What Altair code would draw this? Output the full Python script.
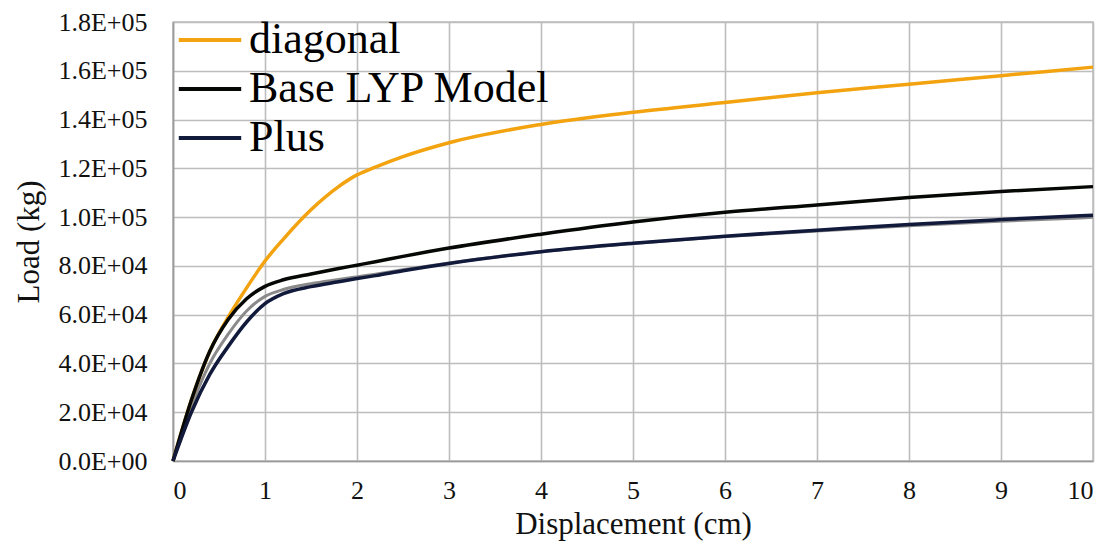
import altair as alt
import pandas as pd

# Displacement sample points (cm)
disp = [0, 0.2, 0.4, 0.6, 0.8, 1.0, 1.2, 1.5, 1.8, 2.0, 2.2, 2.5, 3, 4, 5, 6, 7, 8, 9, 10]

# Load values (kg)
diagonal = [0, 25000, 45000, 59000, 71000, 82000, 91000, 103000, 112500, 117300,
            120500, 124800, 130500, 138000, 143000, 147000, 151000, 154500, 158000, 161500]
base_lyp = [0, 25000, 45000, 58000, 66500, 71600, 74300, 76700, 78900, 80300,
            81700, 83900, 87300, 93000, 98000, 102000, 105000, 108000, 110500, 112500]
plus = [0, 20000, 35500, 47000, 57000, 64500, 68600, 71500, 73500, 74800,
        76000, 78000, 81000, 85800, 89300, 92200, 94600, 97000, 99000, 100800]
grey_curve = [0, 22500, 40000, 52000, 61500, 67500, 70300, 72700, 74400, 75500,
              76600, 78400, 81200, 85800, 89200, 92000, 94300, 96500, 98300, 99900]

series_names = ["diagonal", "Base LYP Model", "Plus"]
series_colors = ["#F2A30F", "#050805", "#121a3c"]

y_ticks = [0, 20000, 40000, 60000, 80000, 100000, 120000, 140000, 160000, 180000]
x_ticks = [0, 1, 2, 3, 4, 5, 6, 7, 8, 9, 10]

rows = []
for name, vals in zip(series_names, [diagonal, base_lyp, plus]):
    for i, (xv, yv) in enumerate(zip(disp, vals)):
        rows.append({"series": name, "x": xv, "y": yv, "ord": i})
df = pd.DataFrame(rows)
gdf = pd.DataFrame({"x": disp, "y": grey_curve})

FONT = "Liberation Serif"
EXP = "floor(log(datum.value)/LN10 + 1e-9)"
label_expr = (
    "datum.value == 0 ? '0.0E+00' : format(datum.value / pow(10, " + EXP + "), '.1f') + 'E+' + ("
    + EXP + " < 10 ? '0' : '') + " + EXP
)

axis_style = dict(
    labelFont=FONT,
    titleFont=FONT,
    labelFontSize=26,
    titleFontSize=31,
    titleFontWeight="normal",
    labelColor="#111111",
    titleColor="#111111",
    grid=True,
    gridColor="#BDBDBD",
    gridWidth=1.6,
    domainColor="#9A9A9A",
    domainWidth=1.6,
    ticks=False,
)

x_enc = alt.X(
    "x:Q",
    scale=alt.Scale(domain=[0, 10], nice=False, zero=True),
    axis=alt.Axis(values=x_ticks, title="Displacement (cm)", format="d",
                  labelPadding=16, titlePadding=6, **axis_style),
)
y_enc = alt.Y(
    "y:Q",
    scale=alt.Scale(domain=[0, 180000], nice=False),
    axis=alt.Axis(values=y_ticks, title="Load (kg)", labelExpr=label_expr,
                  labelPadding=26, titlePadding=12, **axis_style),
)

grey_layer = alt.Chart(gdf).mark_line(
    color="#8a8a8a", strokeWidth=3, interpolate="monotone"
).encode(x=x_enc, y=y_enc)

main = alt.Chart(df).mark_line(strokeWidth=3.5, interpolate="monotone").encode(
    x=x_enc,
    y=y_enc,
    order="ord:Q",
    color=alt.Color(
        "series:N",
        scale=alt.Scale(domain=series_names, range=series_colors),
        legend=alt.Legend(
            title=None,
            orient="none",
            legendX=11,
            legendY=-8,
            symbolType="M-1.3,0H1.3",
            symbolSize=2304,
            symbolStrokeWidth=4,
            labelFontSize=44,
            labelFont=FONT,
            labelColor="#000000",
            labelOffset=13,
            labelLimit=0,
            rowPadding=1,
            padding=0,
        ),
    ),
)

chart = (
    alt.layer(grey_layer, main)
    .properties(
        width=920,
        height=439,
        background="white",
        autosize=alt.AutoSizeParams(type="none"),
        padding={"left": 165, "top": 14, "right": 12, "bottom": 81},
    )
    .configure(font=FONT)
    .configure_view(stroke="#BDBDBD", strokeWidth=1.5)
    .configure_axis(labelFont=FONT, titleFont=FONT)
    .configure_legend(labelFont=FONT)
)

chart.save("out.html", embed_options={"renderer": "svg", "actions": False})
